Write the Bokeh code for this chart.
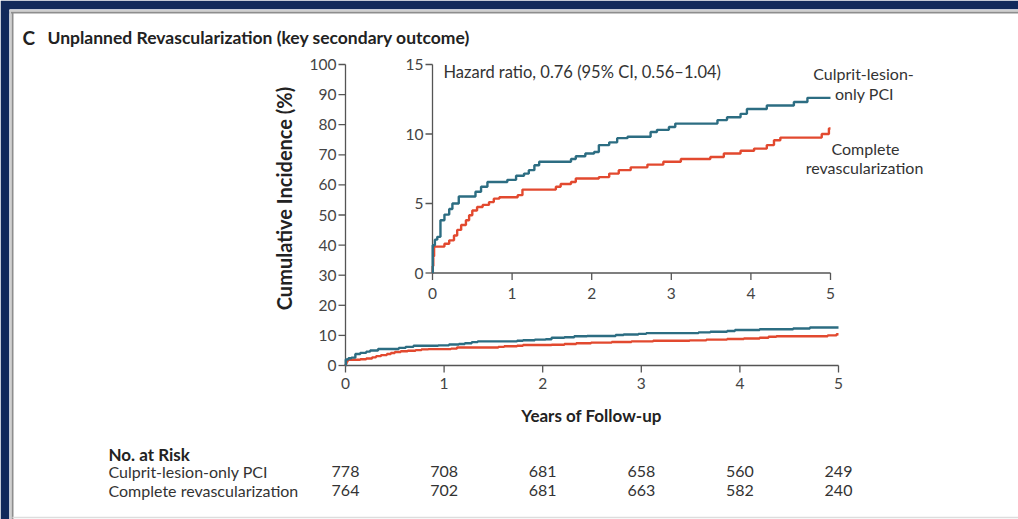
import numpy as np
from bokeh.plotting import figure
from bokeh.models import Range1d
from bokeh.core.properties import value
from bokeh.embed import file_html
from bokeh.resources import INLINE

# ---------------- data ----------------
culprit_t = [0, 0.003, 0.03, 0.06, 0.10, 0.15, 0.21, 0.25, 0.33, 0.54, 0.61, 0.69, 0.94,
             1.05, 1.15, 1.21, 1.28, 1.34, 1.74, 1.80, 1.92, 2.03, 2.09, 2.22, 2.32, 2.45,
             2.74, 2.82, 2.97, 3.05, 3.58, 3.70, 3.87, 3.95, 4.20, 4.54, 4.71, 5.0]
culprit_v = [0, 2.0, 2.4, 2.6, 3.8, 4.2, 4.6, 5.0, 5.5, 5.85, 6.2, 6.55, 6.7,
             7.0, 7.15, 7.4, 7.75, 8.0, 8.2, 8.4, 8.6, 8.7, 9.2, 9.4, 9.7, 9.8,
             10.14, 10.3, 10.5, 10.75, 11.0, 11.2, 11.45, 11.8, 12.05, 12.3, 12.6, 12.6]

complete_t = [0, 0.002, 0.01, 0.02, 0.15, 0.21, 0.27, 0.31, 0.36, 0.42, 0.46, 0.50, 0.56,
              0.63, 0.71, 0.77, 0.84, 1.07, 1.13, 1.55, 1.61, 1.74, 1.80, 2.09, 2.22, 2.34,
              2.49, 2.70, 2.90, 3.12, 3.49, 3.66, 3.87, 4.04, 4.20, 4.29, 4.37, 4.89, 4.98, 5.0]
complete_v = [0, 0.5, 1.2, 1.9, 2.1, 2.35, 2.7, 3.1, 3.45, 3.8, 4.15, 4.5, 4.75,
              4.9, 5.1, 5.35, 5.45, 5.6, 6.0, 6.2, 6.4, 6.55, 6.8, 6.9, 7.15, 7.4,
              7.6, 7.8, 8.0, 8.2, 8.35, 8.6, 8.8, 8.95, 9.2, 9.55, 9.74, 10.0, 10.4, 10.4]

x_ticks = [0, 1, 2, 3, 4, 5]
main_y_ticks = [0, 10, 20, 30, 40, 50, 60, 70, 80, 90, 100]
inset_y_ticks = [0, 5, 10, 15]

risk_groups = ["Culprit-lesion-only PCI", "Complete revascularization"]
risk_culprit = [778, 708, 681, 658, 560, 249]
risk_complete = [764, 702, 681, 663, 582, 240]

title_letter = "C"
title_text = "Unplanned Revascularization (key secondary outcome)"
hr_text = "Hazard ratio, 0.76 (95% CI, 0.56\u20131.04)"
x_label = "Years of Follow-up"
y_label = "Cumulative Incidence (%)"

# ---------------- layout (canvas pixels) ----------------
W, H = 1018, 519
L, T = 9, 9               # navy band widths (left / top)
FX0, FX1 = 345, 838       # main x=0 / x=5
FY1, FY0 = 64, 365        # main y=100 / y=0
IX0, IX1 = 432, 830       # inset x=0 / x=5
IY0, IY1 = 272.5, 64      # inset y=0 / y=15

TEAL = "#2c6d82"
RED = "#e2492f"
AX = "#555555"
TXT = "#333333"
TICK = "#444444"
NAVY = "#11295b"
FONT = value("Lato")

ppx = (FX1 - FX0) / 5.0
ppy = (FY0 - FY1) / 100.0
ipx = (IX1 - IX0) / 5.0
ipy = (IY0 - IY1) / 15.0

p = figure(width=W, height=H, output_backend="svg", toolbar_location=None,
           x_range=Range1d((L - FX0) / ppx, (W - FX0) / ppx),
           y_range=Range1d(-(H - FY0) / ppy, (FY0 - T) / ppy),
           x_axis_location=None, y_axis_location=None, min_border=0,
           min_border_left=L, min_border_top=T, min_border_right=0, min_border_bottom=0)
p.frame_width = W - L
p.frame_height = H - T
p.grid.visible = False
p.background_fill_color = "white"
p.border_fill_color = NAVY
p.outline_line_color = None
p.extra_x_ranges = {"ix": Range1d((L - IX0) / ipx, (W - IX0) / ipx)}
p.extra_y_ranges = {"iy": Range1d(-(H - IY0) / ipy, (IY0 - T) / ipy)}


def dx(px):
    return (px - FX0) / ppx


def dy(py):
    return (FY0 - py) / ppy


def txt(text, px, py, size="16px", align="left", bold=False, color=TXT, angle=0.0):
    p.text(x=[dx(px)], y=[dy(py)], text=[text], text_font=FONT, text_font_size=size,
           text_align=align, text_baseline="middle", text_color=color, angle=angle,
           text_font_style="bold" if bold else "normal")


# panel edge lines (gray rules inside the navy frame)
p.segment(x0=[dx(L), dx(12)], y0=[dy(12), dy(12)], x1=[dx(W), dx(12)], y1=[dy(12), dy(H)],
          line_color="#8e8e8e", line_width=2)
p.segment(x0=[dx(L), dx(10)], y0=[dy(10), dy(10)], x1=[dx(W), dx(10)], y1=[dy(10), dy(H)],
          line_color="#d0d0d0", line_width=1)
p.segment(x0=[dx(12)], y0=[dy(517)], x1=[dx(W)], y1=[dy(517)], line_color="#dddddd",
          line_width=1.5)


def axes(xr, yr, yticks, ylab_off, xlab_off):
    kw = dict(x_range_name=xr, y_range_name=yr) if xr else {}
    x0, y0 = x_ticks[0], yticks[0]
    p.segment(x0=[x0, x0], y0=[y0, y0], x1=[x0, x_ticks[-1]], y1=[yticks[-1], y0],
              line_color=AX, line_width=1.3, **kw)
    p.ray(x=[x0] * len(yticks), y=yticks, length=7, length_units="screen",
          angle=np.pi, line_color=AX, line_width=1.3, **kw)
    p.ray(x=x_ticks, y=[y0] * len(x_ticks), length=7, length_units="screen",
          angle=-np.pi / 2, line_color=AX, line_width=1.3, **kw)
    p.text(x=[x0] * len(yticks), y=yticks, text=[str(v) for v in yticks],
           x_offset=ylab_off, text_align="right", text_baseline="middle", text_font=FONT,
           text_font_size="15.5px", text_color=TICK, **kw)
    p.text(x=x_ticks, y=[y0] * len(x_ticks), text=[str(v) for v in x_ticks],
           y_offset=xlab_off, text_align="center", text_baseline="middle", text_font=FONT,
           text_font_size="15.5px", text_color=TICK, **kw)


# main panel
axes(None, None, main_y_ticks, -9, 18)
p.step(complete_t, complete_v, mode="after", line_color=RED, line_width=2.4)
p.step(culprit_t, culprit_v, mode="after", line_color=TEAL, line_width=2.4)

# inset panel
axes("ix", "iy", inset_y_ticks, -9, 20)
p.step(complete_t, complete_v, mode="after", line_color=RED, line_width=2.4,
       x_range_name="ix", y_range_name="iy")
p.step(culprit_t, culprit_v, mode="after", line_color=TEAL, line_width=2.4,
       x_range_name="ix", y_range_name="iy")

# titles and labels
txt(title_letter, 22, 37, size="19px", bold=True, color="#222222")
txt(title_text, 47, 37, size="17.5px", bold=True, color="#222222")
txt(hr_text, 443, 71, size="16.5px")
txt("Culprit-lesion-", 863, 73, align="center")
txt("only PCI", 864, 93, align="center")
txt("Complete", 865, 148, align="center")
txt("revascularization", 864, 167, align="center")
txt(x_label, 591, 415, size="17px", bold=True, color="#222222", align="center")
txt(y_label, 283, 198, size="20px", bold=True, color="#222222", align="center", angle=np.pi / 2)

# number at risk table
txt("No. at Risk", 108, 454, size="17px", bold=True, color="#222222")
txt(risk_groups[0], 108, 471)
txt(risk_groups[1], 108, 490)
p.text(x=x_ticks, y=[dy(471)] * len(x_ticks), text=[str(v) for v in risk_culprit],
       text_font=FONT, text_font_size="16px", text_align="center", text_baseline="middle",
       text_color=TXT)
p.text(x=x_ticks, y=[dy(490)] * len(x_ticks), text=[str(v) for v in risk_complete],
       text_font=FONT, text_font_size="16px", text_align="center", text_baseline="middle",
       text_color=TXT)

open("out.html", "w").write(file_html(p, INLINE))
